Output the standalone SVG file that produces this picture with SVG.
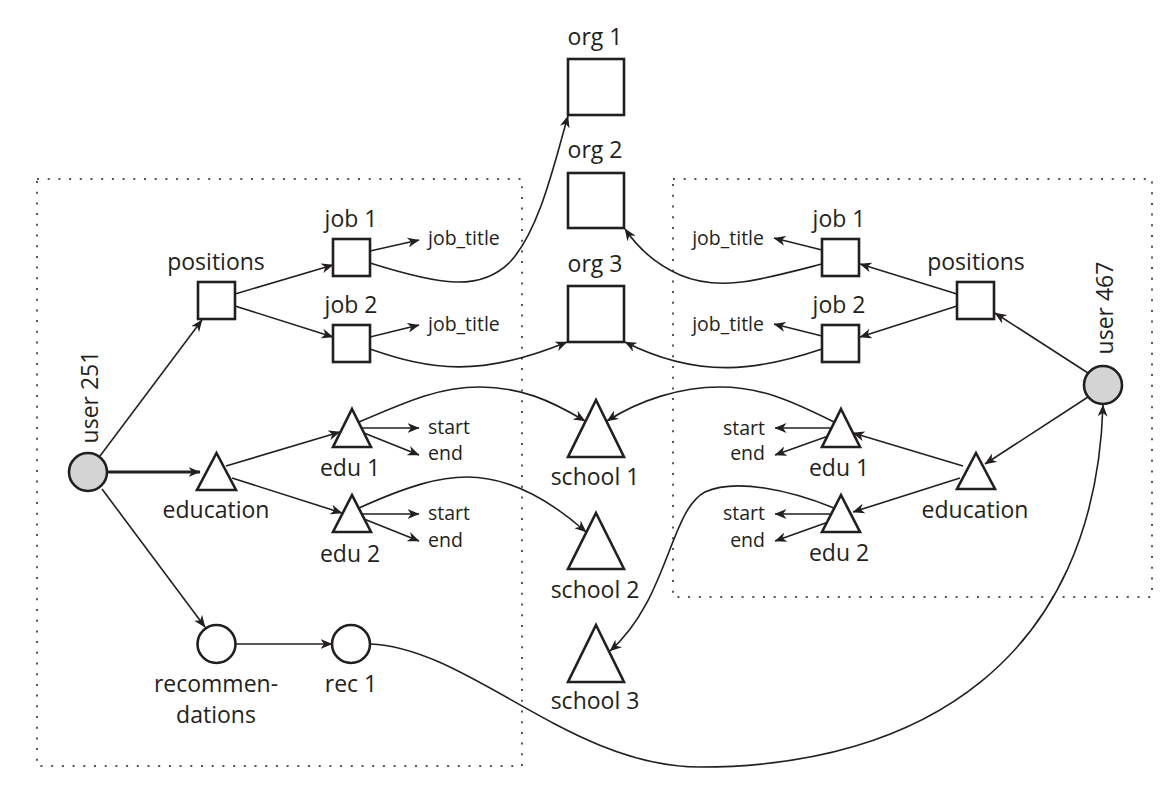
<svg xmlns="http://www.w3.org/2000/svg" width="1175" height="791" viewBox="0 0 1175 791">
<style>
.box{fill:none;stroke:#555;stroke-width:2;stroke-dasharray:2 8.7}
.n{fill:#fff;stroke:#231f20;stroke-width:2.6}
.u{fill:#d4d4d4;stroke:#231f20;stroke-width:2.6}
.e{fill:none;stroke:#231f20;stroke-width:1.6;marker-end:url(#arr)}
.t{font-family:"Open Sans","Noto Sans",sans-serif;font-size:23px;fill:#231f20;text-anchor:middle}
.s{font-family:"Open Sans","Noto Sans",sans-serif;font-size:19.5px;fill:#231f20;text-anchor:start}
.r{font-family:"Open Sans","Noto Sans",sans-serif;font-size:19.5px;fill:#231f20;text-anchor:end}
</style>
<defs>
<marker id="arr" viewBox="0 0 12 10" refX="11.5" refY="5" markerWidth="12" markerHeight="10" markerUnits="userSpaceOnUse" orient="auto">
<path d="M0,0 L12,5 L0,10 L3.5,5 Z" fill="#231f20"/>
</marker>
</defs>
<rect width="1175" height="791" fill="#fff"/>
<g id="boxes">
<rect class="box" x="37" y="179" width="485" height="587"/>
<rect class="box" x="673" y="179" width="479" height="418"/>
</g>
<g id="connectors">
<path class="e" d="M100,456 L202,320"/>
<path class="e" d="M107,472 L200,472" style="stroke-width:2.8"/>
<path class="e" d="M102,489 L205,627"/>
<path class="e" d="M235,294 L333,265"/>
<path class="e" d="M235,306 L333,337"/>
<path class="e" d="M370,251 L419,240"/>
<path class="e" d="M370,337 L419,325"/>
<path class="e" d="M226,466 L340,432"/>
<path class="e" d="M232,478 L342,513"/>
<path class="e" d="M360,428 L419,428"/>
<path class="e" d="M364,433 L419,455"/>
<path class="e" d="M360,514 L419,514"/>
<path class="e" d="M364,519 L419,541"/>
<path class="e" d="M235,644 L332,644"/>
<path class="e" d="M1088,373 L995,313"/>
<path class="e" d="M1088,397 L985,464"/>
<path class="e" d="M957,294 L860,264"/>
<path class="e" d="M957,306 L860,337"/>
<path class="e" d="M822,250 L774,238"/>
<path class="e" d="M822,336 L774,324"/>
<path class="e" d="M963,466 L853,433"/>
<path class="e" d="M960,478 L853,512"/>
<path class="e" d="M831,428 L775,428"/>
<path class="e" d="M834,434 L775,455"/>
<path class="e" d="M831,514 L775,514"/>
<path class="e" d="M834,520 L775,541"/>
<path class="e" d="M370,263 C440,285 480,292 510,262 C540,230 555,160 568,116"/>
<path class="e" d="M370,349 C430,370 480,378 567,342"/>
<path class="e" d="M822,264 C760,280 720,292 680,275 C655,264 638,248 625,229"/>
<path class="e" d="M822,349 C760,370 700,380 625,342"/>
<path class="e" d="M359,422 C410,400 440,387 480,387 C520,387 550,400 585,421"/>
<path class="e" d="M359,508 C410,485 440,477 467,477 C510,477 550,500 586,532"/>
<path class="e" d="M834,422 C790,400 760,387 720,387 C680,387 640,400 607,421"/>
<path class="e" d="M834,508 C790,490 735,478 705,492 C670,510 668,600 610,651"/>
<path class="e" d="M370,644 C470,648 570,767 700,767 C920,767 1095,660 1103,405"/>
</g>
<g id="user251"><circle class="u" cx="88" cy="472" r="19"/><text class="t" transform="translate(98,397) rotate(-90)">user 251</text></g>
<g id="positions-l"><rect class="n" x="198" y="282" width="37" height="37"/><text class="t" x="216" y="270">positions</text></g>
<g id="job1-l"><rect class="n" x="333" y="239" width="37" height="37"/><text class="t" x="351" y="227">job 1</text><text class="s" x="428" y="245">job_title</text></g>
<g id="job2-l"><rect class="n" x="333" y="325" width="37" height="37"/><text class="t" x="351" y="313">job 2</text><text class="s" x="428" y="331">job_title</text></g>
<g id="education-l"><path class="n" d="M216.5,453 L236,490 L197,490 Z"/><text class="t" x="216" y="518">education</text></g>
<g id="edu1-l"><path class="n" d="M352,409 L371,447 L333,447 Z"/><text class="t" x="350" y="476">edu 1</text><text class="s" x="428" y="434">start</text><text class="s" x="428" y="460">end</text></g>
<g id="edu2-l"><path class="n" d="M352,495 L371,532 L333,532 Z"/><text class="t" x="350" y="562">edu 2</text><text class="s" x="428" y="520">start</text><text class="s" x="428" y="547">end</text></g>
<g id="recommendations"><circle class="n" cx="216.5" cy="644" r="19"/><text class="t" x="216" y="692">recommen-</text><text class="t" x="216" y="723">dations</text></g>
<g id="rec1"><circle class="n" cx="351" cy="644" r="19"/><text class="t" x="351" y="692">rec 1</text></g>
<g id="org1"><rect class="n" x="568" y="59" width="56" height="56"/><text class="t" x="595" y="45">org 1</text></g>
<g id="org2"><rect class="n" x="568" y="173" width="56" height="55"/><text class="t" x="595" y="158">org 2</text></g>
<g id="org3"><rect class="n" x="568" y="286" width="56" height="56"/><text class="t" x="595" y="272">org 3</text></g>
<g id="school1"><path class="n" d="M596,400 L624,457 L568,457 Z"/><text class="t" x="595" y="485">school 1</text></g>
<g id="school2"><path class="n" d="M596,513 L624,569 L568,569 Z"/><text class="t" x="595" y="598">school 2</text></g>
<g id="school3"><path class="n" d="M596,625 L624,682 L568,682 Z"/><text class="t" x="595" y="709">school 3</text></g>
<g id="user467"><circle class="u" cx="1103" cy="385" r="19"/><text class="t" transform="translate(1113,308) rotate(-90)">user 467</text></g>
<g id="positions-r"><rect class="n" x="957" y="282" width="37" height="37"/><text class="t" x="976" y="270">positions</text></g>
<g id="job1-r"><rect class="n" x="822" y="239" width="37" height="37"/><text class="t" x="839" y="227">job 1</text><text class="r" x="764" y="245">job_title</text></g>
<g id="job2-r"><rect class="n" x="822" y="325" width="37" height="37"/><text class="t" x="839" y="313">job 2</text><text class="r" x="764" y="331">job_title</text></g>
<g id="education-r"><path class="n" d="M976,453 L995,489 L957,489 Z"/><text class="t" x="975" y="518">education</text></g>
<g id="edu1-r"><path class="n" d="M841,409 L860,447 L822,447 Z"/><text class="t" x="839" y="476">edu 1</text><text class="r" x="765" y="435">start</text><text class="r" x="765" y="460">end</text></g>
<g id="edu2-r"><path class="n" d="M841,495 L860,532 L822,532 Z"/><text class="t" x="839" y="561">edu 2</text><text class="r" x="765" y="520">start</text><text class="r" x="765" y="547">end</text></g>
</svg>
